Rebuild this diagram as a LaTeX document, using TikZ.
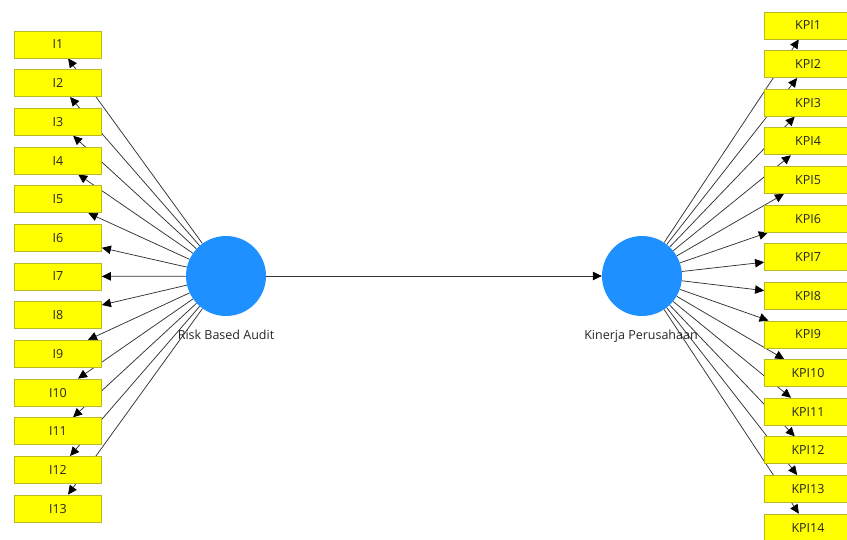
\documentclass[tikz,border=0pt]{standalone}
\usepackage{fontspec}
\setmainfont{Open Sans}
\usetikzlibrary{arrows.meta}
\pgfdeclarelayer{bg}
\pgfsetlayers{bg,main}
\definecolor{lvblue}{RGB}{30,144,255}
\definecolor{indfill}{RGB}{255,255,0}
\definecolor{indedge}{RGB}{185,185,40}
\begin{document}
\begin{tikzpicture}[x=1pt,y=-1pt,
  indicator/.style={draw=indedge, fill=indfill, line width=0.8pt,
    minimum width=87pt, minimum height=27pt, inner sep=0pt,
    font=\fontsize{12.5}{14}\selectfont, text=black!85},
  latent/.style={circle, fill=lvblue, minimum size=80pt, inner sep=0pt},
  ltext/.style={font=\fontsize{12.5}{15}\selectfont, text=black!85},
  loading/.style={draw=black!80, line width=0.75pt,
    -{Triangle[length=9pt,width=8.5pt,color=black]}},
]
\useasboundingbox (0,0) rectangle (847,539);

% latent variables
\node[latent] (rba) at (226,276) {};
\node[latent] (kp) at (642,276) {};
\node[ltext] (rbaLabel) at (226,335) {Risk Based Audit};
\node[ltext] (kpLabel) at (641,336) {Kinerja Perusahaan};

% indicators
\foreach \i in {1,...,13}
  \node[indicator] (I\i) at (58,{44.5+(\i-1)*38.67}) {I\i};
\foreach \k in {1,...,14}
  \node[indicator] (KPI\k) at (808,{25.5+(\k-1)*38.62}) {KPI\k};

% outer loadings, drawn beneath the boxes
\begin{pgfonlayer}{bg}
  \foreach \i in {1,...,13}
    \draw[loading] (rba) -- (I\i);
  \foreach \k in {1,...,14}
    \draw[loading] (kp) -- (KPI\k);
\end{pgfonlayer}

% structural path
\draw[loading] (rba) -- (kp);
\end{tikzpicture}
\end{document}
